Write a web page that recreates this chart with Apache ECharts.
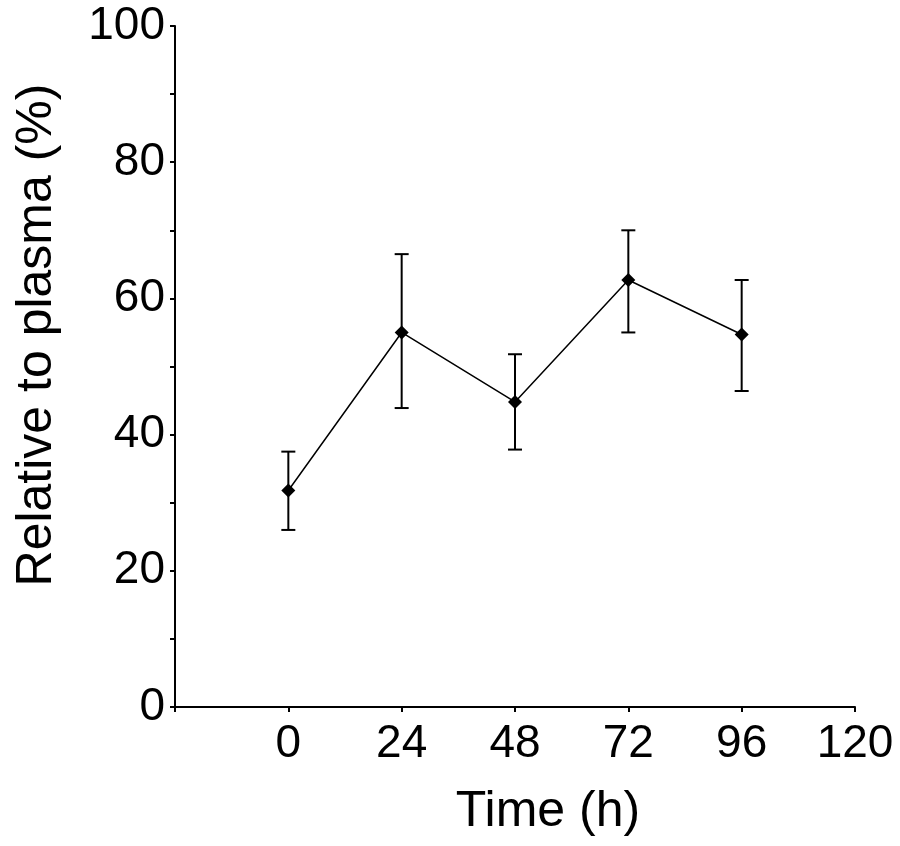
<!DOCTYPE html>
<html>
<head>
<meta charset="utf-8">
<script src="https://cdn.jsdelivr.net/npm/echarts@6/dist/echarts.min.js"></script>
<style>html,body{margin:0;padding:0;background:#fff}#c{width:900px;height:846px}</style>
</head>
<body>
<div id="c"></div>
<script>
var timeH = [0, 24, 48, 72, 96];
var meanVals = [31.8, 55.0, 44.8, 62.7, 54.7];
var upperVals = [37.5, 66.5, 51.8, 70.0, 62.7];
var lowerVals = [26.0, 43.9, 37.8, 55.0, 46.4];
var xTickLabels = ['0', '24', '48', '72', '96', '120'];
var yTickLabels = ['0', '20', '40', '60', '80', '100'];
var xTitle = 'Time (h)';
var yTitle = 'Relative to plasma (%)';

var FONT = '"Liberation Sans", Arial, sans-serif';
var chart = echarts.init(document.getElementById('c'), null, {renderer: 'canvas'});

var lineData = timeH.map(function (t, i) { return [t, meanVals[i]]; });
var errData = timeH.map(function (t, i) { return [t, lowerVals[i], upperVals[i]]; });

chart.setOption({
  animation: false,
  backgroundColor: '#fff',
  grid: {left: 175, top: 26, width: 680, height: 681, containLabel: false},
  xAxis: {
    type: 'value', min: -24, max: 120, interval: 24,
    axisLine: {onZero: false, lineStyle: {color: '#000', width: 2}},
    axisTick: {show: true, length: 5, lineStyle: {color: '#000', width: 2}},
    splitLine: {show: false},
    axisLabel: {
      margin: 14, color: '#000', fontFamily: FONT, fontSize: 46,
      formatter: function (v) { var i = xTickLabels.indexOf(String(v)); return i >= 0 ? xTickLabels[i] : ''; }
    }
  },
  yAxis: {
    type: 'value', min: 0, max: 100, interval: 20,
    axisLine: {onZero: false, lineStyle: {color: '#000', width: 2}},
    axisTick: {show: true, length: 5, lineStyle: {color: '#000', width: 2}},
    minorTick: {show: true, splitNumber: 2, length: 5, lineStyle: {color: '#000', width: 2}},
    splitLine: {show: false},
    axisLabel: {
      margin: 10, color: '#000', fontFamily: FONT, fontSize: 46,
      formatter: function (v) { var i = yTickLabels.indexOf(String(v)); return i >= 0 ? yTickLabels[i] : ''; }
    }
  },
  graphic: [
    {type: 'text', x: 548, y: 812, style: {text: xTitle, fontFamily: FONT, fontSize: 50, fill: '#000', textAlign: 'center', textVerticalAlign: 'middle'}},
    {type: 'text', x: 37, y: 335, rotation: Math.PI / 2, style: {text: yTitle, fontFamily: FONT, fontSize: 50, fill: '#000', textAlign: 'center', textVerticalAlign: 'middle'}}
  ],
  series: [
    {
      type: 'custom',
      data: errData,
      z: 3,
      renderItem: function (params, api) {
        var x = api.value(0);
        var lo = api.coord([x, api.value(1)]);
        var hi = api.coord([x, api.value(2)]);
        var w = 7;
        var st = {stroke: '#000', lineWidth: 2};
        return {type: 'group', children: [
          {type: 'line', shape: {x1: lo[0], y1: lo[1], x2: hi[0], y2: hi[1]}, style: st},
          {type: 'line', shape: {x1: hi[0] - w, y1: hi[1], x2: hi[0] + w, y2: hi[1]}, style: st},
          {type: 'line', shape: {x1: lo[0] - w, y1: lo[1], x2: lo[0] + w, y2: lo[1]}, style: st}
        ]};
      }
    },
    {
      type: 'line',
      data: lineData,
      z: 4,
      symbol: 'diamond', symbolSize: 14,
      itemStyle: {color: '#000'},
      lineStyle: {color: '#000', width: 1.5}
    }
  ]
});
</script>
</body>
</html>
